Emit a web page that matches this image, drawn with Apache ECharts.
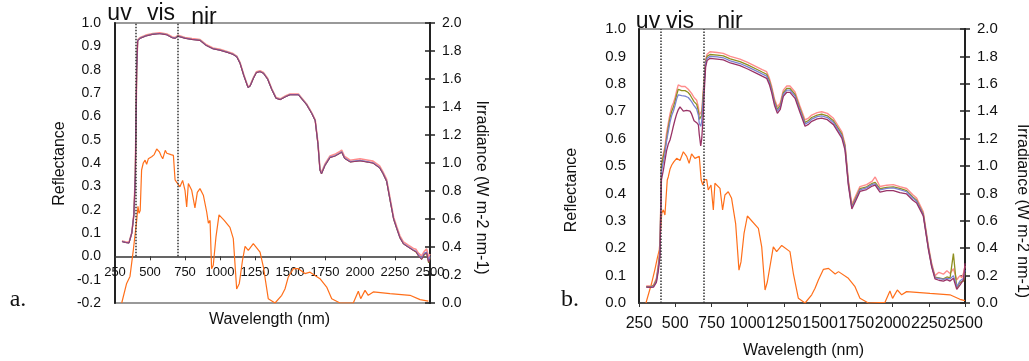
<!DOCTYPE html>
<html>
<head>
<meta charset="utf-8">
<script src="https://cdn.jsdelivr.net/npm/echarts@6/dist/echarts.min.js"></script>
<style>
html,body{margin:0;padding:0;background:#fff;}
#c{width:1029px;height:361px;}
</style>
</head>
<body>
<div id="c"></div>
<script>
// ---------- Panel a: reflectance ----------
var wlA = [300,325,350,370,385,395,405,412,430,470,520,570,620,660,680,700,750,800,857,900,950,1000,1050,1093,1120,1143,1170,1200,1215,1240,1260,1286,1310,1340,1370,1400,1430,1470,1500,1560,1619,1655,1680,1700,1714,1725,1750,1786,1820,1850,1869,1890,1930,2000,2060,2093,2140,2164,2190,2215,2240,2262,2285,2310,2345,2381,2400,2417,2440,2460,2476,2490,2500];
var aPink  = [0.066,0.062,0.060,0.102,0.182,0.352,0.802,0.928,0.938,0.948,0.955,0.958,0.953,0.940,0.938,0.947,0.938,0.933,0.929,0.908,0.893,0.887,0.878,0.869,0.858,0.831,0.778,0.727,0.733,0.768,0.791,0.795,0.788,0.763,0.718,0.681,0.675,0.688,0.696,0.696,0.653,0.616,0.585,0.485,0.375,0.360,0.396,0.430,0.437,0.447,0.455,0.428,0.412,0.418,0.412,0.408,0.388,0.362,0.330,0.248,0.168,0.128,0.088,0.062,0.048,0.034,0.030,0.014,0.002,0.022,0.032,-0.005,0.010];
var aOlive = [0.064,0.060,0.058,0.100,0.180,0.350,0.800,0.925,0.935,0.945,0.952,0.955,0.950,0.937,0.935,0.944,0.935,0.930,0.926,0.905,0.890,0.884,0.875,0.866,0.855,0.828,0.775,0.724,0.730,0.765,0.788,0.792,0.785,0.760,0.715,0.678,0.672,0.685,0.693,0.693,0.650,0.613,0.582,0.480,0.370,0.354,0.390,0.424,0.430,0.440,0.447,0.420,0.405,0.410,0.404,0.400,0.380,0.355,0.322,0.240,0.160,0.120,0.080,0.054,0.040,0.026,0.018,0.004,-0.012,0.008,0.012,-0.028,-0.005];
var aBlue  = [0.064,0.060,0.058,0.100,0.180,0.350,0.800,0.925,0.935,0.945,0.952,0.955,0.950,0.937,0.935,0.944,0.935,0.930,0.926,0.905,0.890,0.884,0.875,0.866,0.855,0.828,0.775,0.724,0.730,0.765,0.788,0.792,0.785,0.760,0.715,0.678,0.672,0.685,0.693,0.693,0.650,0.613,0.582,0.480,0.370,0.355,0.391,0.425,0.431,0.441,0.448,0.421,0.406,0.411,0.405,0.401,0.381,0.356,0.323,0.241,0.161,0.121,0.081,0.055,0.041,0.027,0.022,0.006,-0.008,0.014,0.018,-0.020,0.000];
var aPurple= [0.063,0.059,0.057,0.099,0.179,0.349,0.799,0.924,0.934,0.944,0.951,0.954,0.949,0.936,0.934,0.943,0.934,0.929,0.925,0.904,0.889,0.883,0.874,0.865,0.854,0.827,0.774,0.723,0.729,0.764,0.787,0.791,0.784,0.759,0.714,0.677,0.671,0.684,0.692,0.692,0.649,0.612,0.581,0.479,0.369,0.353,0.389,0.423,0.429,0.439,0.446,0.419,0.404,0.409,0.403,0.399,0.379,0.354,0.321,0.239,0.159,0.119,0.079,0.053,0.039,0.025,0.020,0.002,-0.014,0.010,0.015,-0.025,-0.010];

// ---------- Panel a: irradiance ----------
var wlIrrA = [298,333,357,381,405,414,422,430,440,452,465,476,488,500,512,530,548,567,580,591,609,620,631,650,667,679,690,702,714,733,750,762,774,798,821,838,857,881,905,917,929,940,952,971,993,1030,1071,1095,1119,1138,1160,1179,1202,1238,1286,1310,1345,1393,1441,1464,1488,1524,1560,1607,1643,1714,1762,1798,1857,1952,1988,2005,2036,2059,2095,2214,2357,2429,2488];
var irrA = [0.0,0.14,0.19,0.38,0.59,0.69,0.64,0.66,0.95,1.0,1.02,0.99,1.03,1.02,1.045,1.06,1.10,1.08,1.05,1.03,1.09,1.07,1.068,1.06,1.055,0.88,0.864,0.876,0.83,0.876,0.805,0.686,0.853,0.805,0.68,0.79,0.817,0.77,0.65,0.57,0.59,0.245,0.27,0.47,0.63,0.59,0.54,0.46,0.10,0.14,0.30,0.405,0.376,0.424,0.364,0.257,0.03,0.0,0.055,0.10,0.186,0.245,0.245,0.21,0.22,0.174,0.114,0.031,0.0,0.0,0.084,0.031,0.09,0.055,0.079,0.067,0.055,0.024,0.014];

// ---------- Panel b: reflectance ----------
var wlB = [300,330,350,370,383,395,398,405,420,429,440,452,464,476,487,498,510,521,533,545,556,568,579,590,602,613,630,648,660,666,676,683,694,699,710,720,740,790,832,880,947,1000,1062,1100,1131,1150,1166,1185,1205,1225,1246,1270,1292,1327,1360,1396,1420,1442,1480,1511,1550,1592,1650,1672,1695,1719,1745,1775,1821,1860,1880,1913,1960,2005,2050,2097,2140,2166,2212,2247,2270,2293,2320,2351,2375,2397,2420,2443,2465,2478,2490,2500];
var bPink  = [0.062,0.062,0.065,0.090,0.140,0.200,0.300,0.510,0.550,0.570,0.620,0.656,0.690,0.717,0.730,0.747,0.775,0.796,0.800,0.790,0.784,0.790,0.790,0.780,0.775,0.765,0.750,0.740,0.715,0.686,0.690,0.700,0.780,0.810,0.890,0.908,0.917,0.914,0.911,0.900,0.890,0.878,0.862,0.852,0.844,0.820,0.790,0.745,0.716,0.730,0.777,0.792,0.792,0.770,0.720,0.668,0.675,0.686,0.695,0.698,0.692,0.674,0.625,0.580,0.449,0.360,0.390,0.425,0.432,0.445,0.460,0.425,0.430,0.432,0.425,0.418,0.395,0.383,0.333,0.210,0.145,0.100,0.112,0.105,0.118,0.108,0.125,0.085,0.100,0.092,0.110,0.135];
var bOlive = [0.060,0.060,0.063,0.085,0.130,0.190,0.290,0.500,0.540,0.560,0.600,0.640,0.675,0.700,0.715,0.735,0.760,0.780,0.785,0.775,0.770,0.775,0.775,0.768,0.760,0.750,0.735,0.725,0.700,0.670,0.665,0.685,0.765,0.800,0.882,0.900,0.907,0.905,0.902,0.891,0.881,0.869,0.853,0.843,0.835,0.811,0.781,0.736,0.707,0.721,0.768,0.783,0.783,0.761,0.711,0.659,0.666,0.677,0.686,0.689,0.683,0.665,0.616,0.572,0.440,0.352,0.382,0.417,0.424,0.437,0.440,0.417,0.422,0.424,0.418,0.410,0.387,0.375,0.325,0.203,0.138,0.094,0.092,0.088,0.095,0.092,0.180,0.055,0.075,0.070,0.080,0.110];
var bBlue  = [0.058,0.058,0.060,0.080,0.125,0.180,0.280,0.480,0.520,0.545,0.590,0.625,0.660,0.685,0.700,0.720,0.745,0.760,0.765,0.757,0.750,0.755,0.756,0.750,0.745,0.735,0.720,0.708,0.685,0.655,0.645,0.665,0.750,0.790,0.875,0.893,0.900,0.898,0.895,0.884,0.874,0.862,0.846,0.836,0.828,0.805,0.775,0.730,0.700,0.715,0.762,0.777,0.777,0.755,0.705,0.653,0.660,0.671,0.680,0.683,0.677,0.659,0.610,0.566,0.435,0.348,0.378,0.413,0.420,0.433,0.435,0.413,0.418,0.420,0.414,0.406,0.383,0.371,0.322,0.200,0.135,0.092,0.090,0.086,0.090,0.088,0.100,0.060,0.080,0.075,0.090,0.120];
var bPurple= [0.058,0.057,0.058,0.075,0.115,0.170,0.270,0.450,0.490,0.520,0.555,0.580,0.595,0.620,0.645,0.668,0.690,0.705,0.716,0.710,0.700,0.700,0.703,0.705,0.700,0.690,0.665,0.658,0.650,0.615,0.573,0.600,0.690,0.760,0.862,0.885,0.893,0.890,0.887,0.876,0.866,0.854,0.838,0.828,0.820,0.797,0.767,0.722,0.692,0.707,0.754,0.769,0.769,0.747,0.697,0.645,0.652,0.663,0.672,0.675,0.669,0.651,0.602,0.558,0.430,0.343,0.372,0.407,0.414,0.427,0.430,0.405,0.410,0.410,0.403,0.398,0.375,0.365,0.318,0.197,0.132,0.088,0.083,0.080,0.085,0.080,0.090,0.050,0.065,0.060,0.085,0.145];

// ---------- Panel b: irradiance ----------
var wlIrrB = [298,337,360,376,390,407,418,429,445,452,465,476,490,510,533,556,579,596,613,636,666,679,690,702,717,728,747,763,774,809,827,843,866,889,917,928,940,954,975,998,1074,1097,1120,1136,1177,1200,1235,1292,1315,1350,1396,1442,1465,1488,1523,1558,1604,1627,1695,1741,1775,1833,1948,1982,2000,2033,2063,2097,2258,2396,2465,2500];
var irrB = [0.0,0.144,0.246,0.326,0.387,0.655,0.68,0.642,0.898,0.92,0.98,1.007,1.03,1.056,1.04,1.104,1.07,1.02,1.088,1.056,1.07,0.898,0.861,0.9,0.9,0.825,0.861,0.679,0.874,0.837,0.679,0.788,0.812,0.764,0.58,0.59,0.24,0.30,0.509,0.635,0.545,0.41,0.095,0.155,0.41,0.375,0.42,0.375,0.217,0.034,0.0,0.06,0.107,0.168,0.246,0.253,0.212,0.229,0.18,0.119,0.034,0.0,0.005,0.088,0.034,0.095,0.06,0.083,0.07,0.06,0.027,0.017];

// ---------- ticks / markers ----------
var regionBounds = [400, 700];
var regionNames = ['uv', 'vis', 'nir'];
var panelNames = ['a.', 'b.'];

function pairs(xs, ys){ return xs.map(function(x,i){ return [x, ys[i]]; }); }

var FONT = '"Liberation Sans", Arial, sans-serif';
var SERIF = '"Liberation Serif", "Times New Roman", serif';
var COL = {pink:'#ff8c8c', olive:'#8f8f1f', blue:'#7a82d2', purple:'#993366', orange:'#ff6f1a'};

var chart = echarts.init(document.getElementById('c'), null, {renderer:'canvas'});

function xAx(grid, fs, margin, offset){
  return {
    gridIndex: grid, type:'value', position:'bottom', offset:offset, min:250, max:2500, interval:250,
    axisLine:{show:true, onZero:false, lineStyle:{color:'#333', width:1.5}},
    axisTick:{show:true, length:4, lineStyle:{color:'#333', width:1}},
    axisLabel:{fontSize:fs, fontFamily:FONT, color:'#111', margin:margin, showMinLabel:true, showMaxLabel:true, hideOverlap:false,
      formatter:function(v){ return String(v); }},
    splitLine:{show:false}
  };
}
function yAx(grid, pos, min, max, iv, fs, margin, opts){
  var o = {
    gridIndex: grid, type:'value', position:pos, min:min, max:max, interval:iv,
    axisLine:{show:true, onZero:false, lineStyle:{color:'#222', width:2}},
    axisTick:{show:false},
    axisLabel:{fontSize:fs, fontFamily:FONT, color:'#111', margin:margin, formatter:function(v){ return v.toFixed(1); }},
    splitLine:{show:false}
  };
  if (opts) for (var k in opts) o[k] = opts[k];
  return o;
}

var markV = {
  silent:true, symbol:['none','none'],
  lineStyle:{type:'dotted', color:'#333', width:1.5},
  label:{show:false},
  data: regionBounds.map(function(b){ return [{coord:[b,0]},{coord:[b,1]}]; })
};

function refl(name, xi, yi, data, color, w, withMark){
  var s = {name:name, type:'line', xAxisIndex:xi, yAxisIndex:yi, data:data, showSymbol:false,
    lineStyle:{color:color, width:w}, itemStyle:{color:color}, z:3, silent:true, animation:false};
  if (withMark) s.markLine = markV;
  return s;
}

var option = {
  animation:false,
  grid:[
    {left:115, top:23, width:315, height:280, show:true, borderColor:'#999', borderWidth:2, backgroundColor:'transparent'},
    {left:639, top:29, width:326, height:274, show:true, borderColor:'#999', borderWidth:2, backgroundColor:'transparent'}
  ],
  xAxis:[ xAx(0, 13, 10, -46.7), xAx(1, 16, 13, 0) ],
  yAxis:[
    yAx(0, 'left', -0.2, 1.0, 0.1, 14, 14),
    yAx(0, 'right', 0, 2.0, 0.2, 14, 12, {axisTick:{show:true, length:5, lineStyle:{color:'#222', width:1.5}}}),
    yAx(0, 'right', 0, 2.0, 0.2, 14, 12, {axisLabel:{show:false}, axisTick:{show:true, inside:true, length:5, lineStyle:{color:'#222', width:1.5}}}),
    yAx(1, 'left', 0, 1.0, 0.1, 15, 13),
    yAx(1, 'right', 0, 2.0, 0.2, 15, 12, {axisTick:{show:true, length:5, lineStyle:{color:'#222', width:1.5}}}),
    yAx(1, 'right', 0, 2.0, 0.2, 15, 12, {axisLabel:{show:false}, axisTick:{show:true, inside:true, length:5, lineStyle:{color:'#222', width:1.5}}})
  ],
  series:[
    {type:'line', xAxisIndex:0, yAxisIndex:1, data:pairs(wlIrrA, irrA), showSymbol:false, lineStyle:{color:COL.orange, width:1.2}, z:2, silent:true},
    refl('a pink', 0, 0, pairs(wlA, aPink), COL.pink, 1.6, true),
    refl('a olive', 0, 0, pairs(wlA, aOlive), COL.olive, 1.2, false),
    refl('a blue', 0, 0, pairs(wlA, aBlue), COL.blue, 1.2, false),
    refl('a purple', 0, 0, pairs(wlA, aPurple), COL.purple, 1.0, false),

    {type:'line', xAxisIndex:1, yAxisIndex:4, data:pairs(wlIrrB, irrB), showSymbol:false, lineStyle:{color:COL.orange, width:1.2}, z:2, silent:true},
    refl('b pink', 1, 3, pairs(wlB, bPink), COL.pink, 1.4, true),
    refl('b olive', 1, 3, pairs(wlB, bOlive), COL.olive, 1.3, false),
    refl('b blue', 1, 3, pairs(wlB, bBlue), COL.blue, 1.3, false),
    refl('b purple', 1, 3, pairs(wlB, bPurple), COL.purple, 1.3, false)
  ],
  graphic:[
    {type:'text', x:119.5, y:14, style:{text:regionNames[0], font:'23px '+FONT, fill:'#111', textAlign:'center', textVerticalAlign:'middle'}, z:10},
    {type:'text', x:161, y:14, style:{text:regionNames[1], font:'23px '+FONT, fill:'#111', textAlign:'center', textVerticalAlign:'middle'}, z:10},
    {type:'text', x:204, y:18, style:{text:regionNames[2], font:'23px '+FONT, fill:'#111', textAlign:'center', textVerticalAlign:'middle'}, z:10},
    {type:'text', x:648, y:22, style:{text:regionNames[0], font:'23px '+FONT, fill:'#111', textAlign:'center', textVerticalAlign:'middle'}, z:10},
    {type:'text', x:680, y:22, style:{text:regionNames[1], font:'23px '+FONT, fill:'#111', textAlign:'center', textVerticalAlign:'middle'}, z:10},
    {type:'text', x:730, y:21.5, style:{text:regionNames[2], font:'23px '+FONT, fill:'#111', textAlign:'center', textVerticalAlign:'middle'}, z:10},

    {type:'text', x:60, y:163.5, rotation:Math.PI/2, style:{text:'Reflectance', font:'16px '+FONT, fill:'#111', textAlign:'center', textVerticalAlign:'middle'}},
    {type:'text', x:572, y:190, rotation:Math.PI/2, style:{text:'Reflectance', font:'16px '+FONT, fill:'#111', textAlign:'center', textVerticalAlign:'middle'}},
    {type:'text', x:481, y:187.5, rotation:-Math.PI/2, style:{text:'Irradiance (W m-2 nm-1)', font:'16px '+FONT, fill:'#111', textAlign:'center', textVerticalAlign:'middle'}},
    {type:'text', x:1022, y:211, rotation:-Math.PI/2, style:{text:'Irradiance (W m-2 nm-1)', font:'16px '+FONT, fill:'#111', textAlign:'center', textVerticalAlign:'middle'}},
    {type:'text', x:269.5, y:320, style:{text:'Wavelength (nm)', font:'16px '+FONT, fill:'#111', textAlign:'center', textVerticalAlign:'middle'}},
    {type:'text', x:803.5, y:351, style:{text:'Wavelength (nm)', font:'16px '+FONT, fill:'#111', textAlign:'center', textVerticalAlign:'middle'}},

    {type:'text', x:18, y:300, style:{text:panelNames[0], font:'24px '+SERIF, fill:'#111', textAlign:'center', textVerticalAlign:'middle'}},
    {type:'text', x:570, y:300, style:{text:panelNames[1], font:'24px '+SERIF, fill:'#111', textAlign:'center', textVerticalAlign:'middle'}}
  ]
};
chart.setOption(option);
</script>
</body>
</html>
